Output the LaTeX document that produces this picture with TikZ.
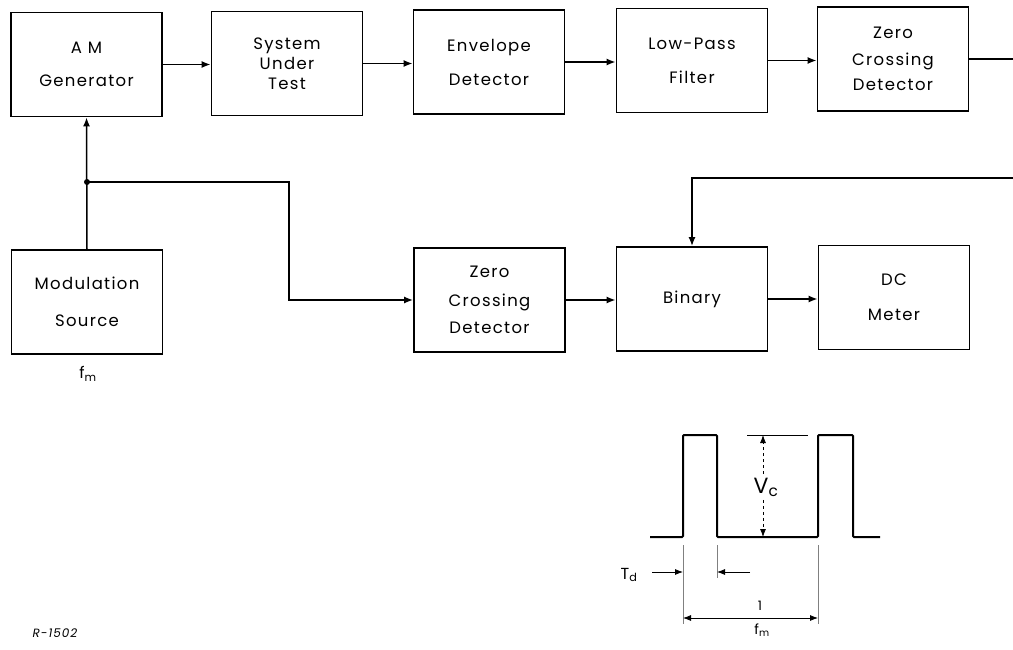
\documentclass[tikz,border=0pt]{standalone}
\usepackage{fontspec}
\setmainfont[LetterSpace=8]{Poppins}
\usetikzlibrary{arrows.meta, positioning, calc}

\tikzset{
  block/.style={draw, line width=1.8pt, minimum width=151pt, minimum height=104pt,
                align=center, inner sep=0pt, font=\fontsize{16.5}{20}\selectfont},
  sig/.style={line width=1.5pt, -{Latex[length=9pt,width=7pt]}},
  dim/.style={line width=0.8pt},
  dimtip/.style={dim, -{Latex[length=8pt,width=6pt]}},
}

\begin{document}
\begin{tikzpicture}[x=1pt, y=-1pt]
  \useasboundingbox (0,0) rectangle (1013,650);

  % upper chain
  \node[block] (amgen)   at (86.5,64.5) {A M\\[13pt]Generator};
  \node[block] (sut)     at (287,63.5)  {System\\Under\\Test};
  \node[block] (envdet)  at (489,62)    {Envelope\\[14pt]Detector};
  \node[block] (lpf)     at (692,60.5)  {Low-Pass\\[14pt]Filter};
  \node[block] (zcdtop)  at (893,59)    {Zero\\[7pt]Crossing\\[5pt]Detector};

  % lower chain
  \node[block] (modsrc)  at (87,302)    {Modulation\\[17pt]Source};
  \node[block] (zcdbot)  at (489.5,300) {Zero\\[9pt]Crossing\\[7pt]Detector};
  \node[block] (binary)  at (692,299)   {Binary};
  \node[block] (dcmeter) at (894,297.5) {DC\\[15pt]Meter};

  \node[font=\fontsize{16}{18}\selectfont] (fmlabel) at (88,374) {f\textsubscript{m}};
  \node[font=\fontsize{12}{13}\selectfont\itshape] (refno) at (55,633) {R-1502};

  \draw[sig] (amgen.east)  -- (sut.west |- amgen.east);
  \draw[sig] (sut.east)    -- (envdet.west |- sut.east);
  \draw[sig] (envdet.east) -- (lpf.west |- envdet.east);
  \draw[sig] (lpf.east)    -- (zcdtop.west |- lpf.east);
  \coordinate (outtop) at (1013,59);
  \draw[line width=1.5pt] (zcdtop.east) -- (outtop);

  % feedback into binary
  \coordinate (fbin) at (1013,178);
  \draw[sig] (fbin) -| (binary.north);

  % modulation source
  \coordinate (jn) at (87,182);
  \coordinate (bend) at (289,182);
  \draw[sig] (modsrc.north) -- (amgen.south);
  \fill (jn) circle (3);
  \draw[sig] (jn) -- (bend) |- (zcdbot.west);
  \draw[sig] (zcdbot.east) -- (binary.west |- zcdbot.east);
  \draw[sig] (binary.east) -- (dcmeter.west |- binary.east);

  % output waveform
  \draw[line width=2pt, rounded corners=1pt] (650,537) -- (683,537) -- (683,435)
    -- (717,435) -- (717,537) -- (818,537) -- (818,435) -- (853,435) -- (853,537)
    -- (880,537);

  % V_c
  \node[font=\fontsize{22}{24}\selectfont] (vc) at (766,487) {V\textsubscript{c}};
  \draw[dim] (747,435) -- (808,435);
  \draw[dimtip, dashed] (vc.north -| 763,0) -- (763,435);
  \draw[dimtip, dashed] (vc.south -| 763,0) -- (763,537);

  % T_d
  \draw[dim, gray] (683,545) -- (683,624);
  \draw[dim, gray] (717,545) -- (717,578);
  \draw[dim, gray] (818,545) -- (818,624);
  \node[font=\fontsize{16}{18}\selectfont] (td) at (629,575) {T\textsubscript{d}};
  \draw[dimtip] (652,572) -- (683,572);
  \draw[dimtip] (750,572) -- (717,572);

  % 1/f_m
  \node[font=\fontsize{13}{14}\selectfont] (one) at (760,606) {1};
  \node[font=\fontsize{14}{15}\selectfont] (fmper) at (762,630) {f\textsubscript{m}};
  \draw[dim, {Latex[length=8pt,width=6pt]}-{Latex[length=8pt,width=6pt]}] (683,618) -- (818,618);
\end{tikzpicture}
\end{document}
